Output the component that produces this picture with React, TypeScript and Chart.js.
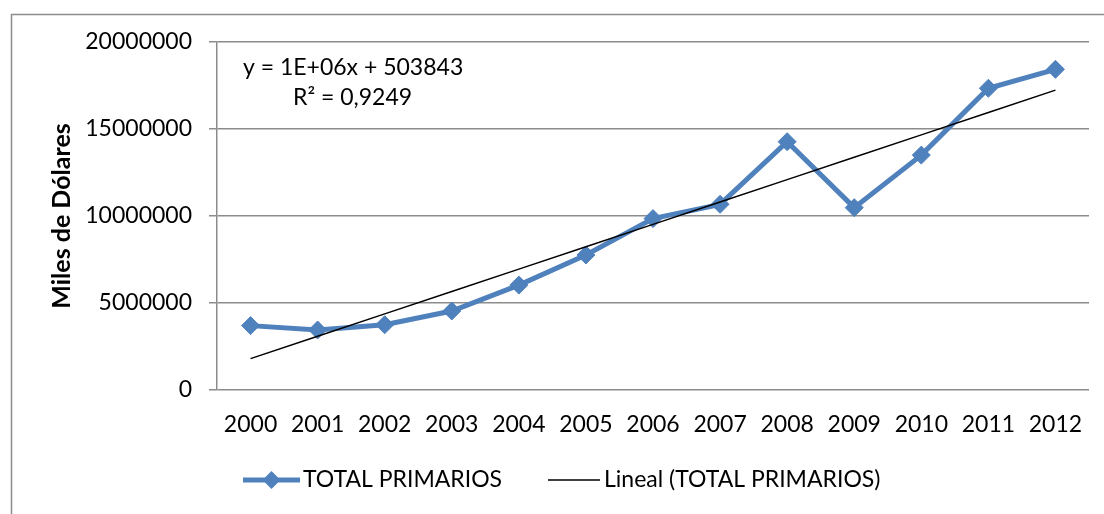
import React, { useEffect, useRef } from "react";
import { Chart, registerables } from "chart.js";
Chart.register(...registerables);

const years = ["2000", "2001", "2002", "2003", "2004", "2005", "2006", "2007", "2008", "2009", "2010", "2011", "2012"];
const totalPrimarios = [3700000, 3450000, 3750000, 4540000, 6030000, 7760000, 9850000, 10670000, 14270000, 10480000, 13500000, 17340000, 18430000];
const yTicks = [0, 5000000, 10000000, 15000000, 20000000];
const seriesLabel = "TOTAL PRIMARIOS";
const trendLabel = "Lineal (TOTAL PRIMARIOS)";
const equationLines = ["y = 1E+06x + 503843", "R² = 0,9249"];
const yTitle = "Miles de Dólares";

const FONT = "Lato, 'Open Sans', sans-serif";
const BLUE = "#4F81BD";
const GRID = "#8c8c8c";

function linearTrend(vals: number[]): number[] {
  const n = vals.length;
  const xs = vals.map((_, i) => i + 1);
  const mx = xs.reduce((a, b) => a + b, 0) / n;
  const my = vals.reduce((a, b) => a + b, 0) / n;
  let num = 0, den = 0;
  for (let i = 0; i < n; i++) {
    num += (xs[i] - mx) * (vals[i] - my);
    den += (xs[i] - mx) ** 2;
  }
  const slope = num / den;
  const intercept = my - slope * mx;
  return xs.map((x) => intercept + slope * x);
}

const decorPlugin = {
  id: "decor",
  afterDraw(chart: any) {
    const ctx = chart.ctx as CanvasRenderingContext2D;
    const area = chart.chartArea;
    ctx.save();
    // outer frame
    ctx.strokeStyle = GRID;
    ctx.lineWidth = 1.5;
    ctx.beginPath();
    ctx.moveTo(11.5, 520);
    ctx.lineTo(11.5, 14.5);
    ctx.lineTo(1110, 14.5);
    ctx.stroke();

    // equation
    ctx.fillStyle = "#000";
    ctx.font = `23px ${FONT}`;
    ctx.textBaseline = "middle";
    ctx.textAlign = "left";
    ctx.fillText(equationLines[0], area.left + 26, 68);
    ctx.fillText(equationLines[1], area.left + 76, 98);

    // legend
    const ly = 480;
    ctx.strokeStyle = BLUE;
    ctx.lineWidth = 5;
    ctx.beginPath();
    ctx.moveTo(243, ly);
    ctx.lineTo(300, ly);
    ctx.stroke();
    ctx.fillStyle = BLUE;
    ctx.beginPath();
    const r = 9;
    const cx = 271.5;
    ctx.moveTo(cx, ly - r);
    ctx.lineTo(cx + r, ly);
    ctx.lineTo(cx, ly + r);
    ctx.lineTo(cx - r, ly);
    ctx.closePath();
    ctx.fill();
    ctx.fillStyle = "#000";
    ctx.fillText(seriesLabel, 303, ly);

    ctx.strokeStyle = "#000";
    ctx.lineWidth = 1.5;
    ctx.beginPath();
    ctx.moveTo(548, ly);
    ctx.lineTo(600, ly);
    ctx.stroke();
    ctx.fillText(trendLabel, 604, ly);
    ctx.restore();
  },
};

export default function App() {
  const ref = useRef<HTMLCanvasElement | null>(null);
  useEffect(() => {
    document.body.style.margin = "0";
    const trend = linearTrend(totalPrimarios);
    const chart = new Chart(ref.current!, {
      type: "line",
      data: {
        labels: years,
        datasets: [
          {
            label: seriesLabel,
            data: totalPrimarios,
            borderColor: BLUE,
            backgroundColor: BLUE,
            borderWidth: 5,
            pointStyle: "rectRot",
            pointRadius: 9,
            pointBorderWidth: 1,
            pointBackgroundColor: BLUE,
            pointBorderColor: BLUE,
            tension: 0,
            order: 2,
          },
          {
            label: trendLabel,
            data: trend,
            borderColor: "#000",
            borderWidth: 1.5,
            pointRadius: 0,
            tension: 0,
            order: 1,
          },
        ],
      },
      options: {
        responsive: false,
        animation: false,
        layout: { padding: { left: 0, top: 42, right: 15, bottom: 0 } },
        plugins: {
          legend: { display: false },
          tooltip: { enabled: false },
        },
        scales: {
          x: {
            type: "category",
            offset: true,
            grid: { display: false },
            border: { display: false },
            ticks: {
              color: "#000",
              font: { family: FONT, size: 23 },
              padding: 13,
              maxRotation: 0,
              autoSkip: false,
            },
            afterFit(scale: any) {
              scale.height = 124;
            },
          },
          y: {
            min: 0,
            max: 20000000,
            afterBuildTicks(scale: any) {
              scale.ticks = yTicks.map((v) => ({ value: v }));
            },
            grid: { color: GRID, lineWidth: 1.5, tickLength: 8, drawTicks: true },
            border: { display: true, color: GRID, width: 1.5 },
            ticks: {
              color: "#000",
              font: { family: FONT, size: 23 },
              padding: 17,
              callback: (v: any) => String(v),
            },
            title: {
              display: true,
              text: yTitle,
              color: "#000",
              font: { family: FONT, size: 25, weight: "bold" },
              padding: { top: 47, bottom: 0 },
            },
            afterFit(scale: any) {
              scale.width = 217;
            },
          },
        },
      },
      plugins: [decorPlugin],
    });
    return () => chart.destroy();
  }, []);
  return (
    <div style={{ position: "absolute", left: 0, top: 0, width: 1104, height: 514, background: "#fff" }}>
      <canvas ref={ref} width={1104} height={514} style={{ display: "block" }} />
    </div>
  );
}
